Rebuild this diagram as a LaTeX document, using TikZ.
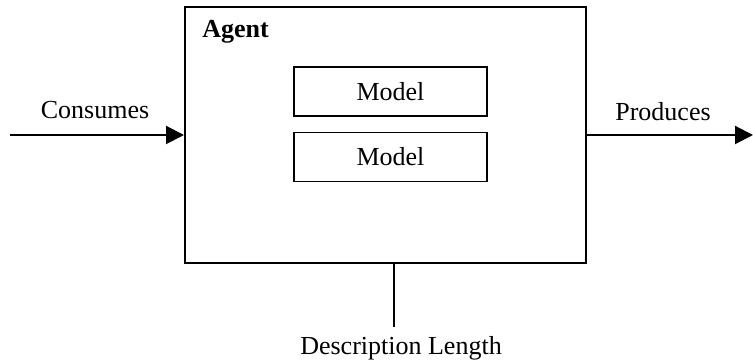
\documentclass[tikz,border=0pt]{standalone}
\usepackage{fontspec}
\setmainfont{Liberation Serif}
\usetikzlibrary{arrows.meta,positioning}

\begin{document}
\begin{tikzpicture}[x=0.5pt,y=-0.5pt,
    box/.style={draw,line width=1pt,inner sep=0pt},
    mdl/.style={box,line width=0.8pt,minimum width=96.5pt,minimum height=24.5pt,font=\fontsize{13}{15}\selectfont},
    flow/.style={line width=1pt,-{Triangle[length=9pt,width=9pt]}},
    lbl/.style={inner sep=0pt,font=\fontsize{13}{15}\selectfont}]
            \useasboundingbox (0,0) rectangle (753,362);

            \node[box,minimum width=200.5pt,minimum height=128pt] (agent) at (385.5,135) {};
            \node[lbl,font=\fontsize{13}{15}\selectfont\bfseries,anchor=west] (agentlbl) at (202,32) {Agent};

            \node[mdl] (m1) at (390.5,91.5) {Model};
            \node[mdl,below=7.5pt of m1] (m2) {Model};

            \coordinate (in) at (10,135);
            \coordinate (out) at (753,135);
            \coordinate (dl) at (394,327);

            \node[lbl] (cons) at (95,110) {Consumes};
            \node[lbl] (prod) at (663,112) {Produces};
            \node[lbl] (desc) at (401,348) {Description Length};

            \draw[flow] (in) -- (agent.west);
            \draw[flow] (agent.east) -- (out);
            \draw[line width=1pt] (agent.south -| dl) -- (dl);
        \end{tikzpicture}
\end{document}
